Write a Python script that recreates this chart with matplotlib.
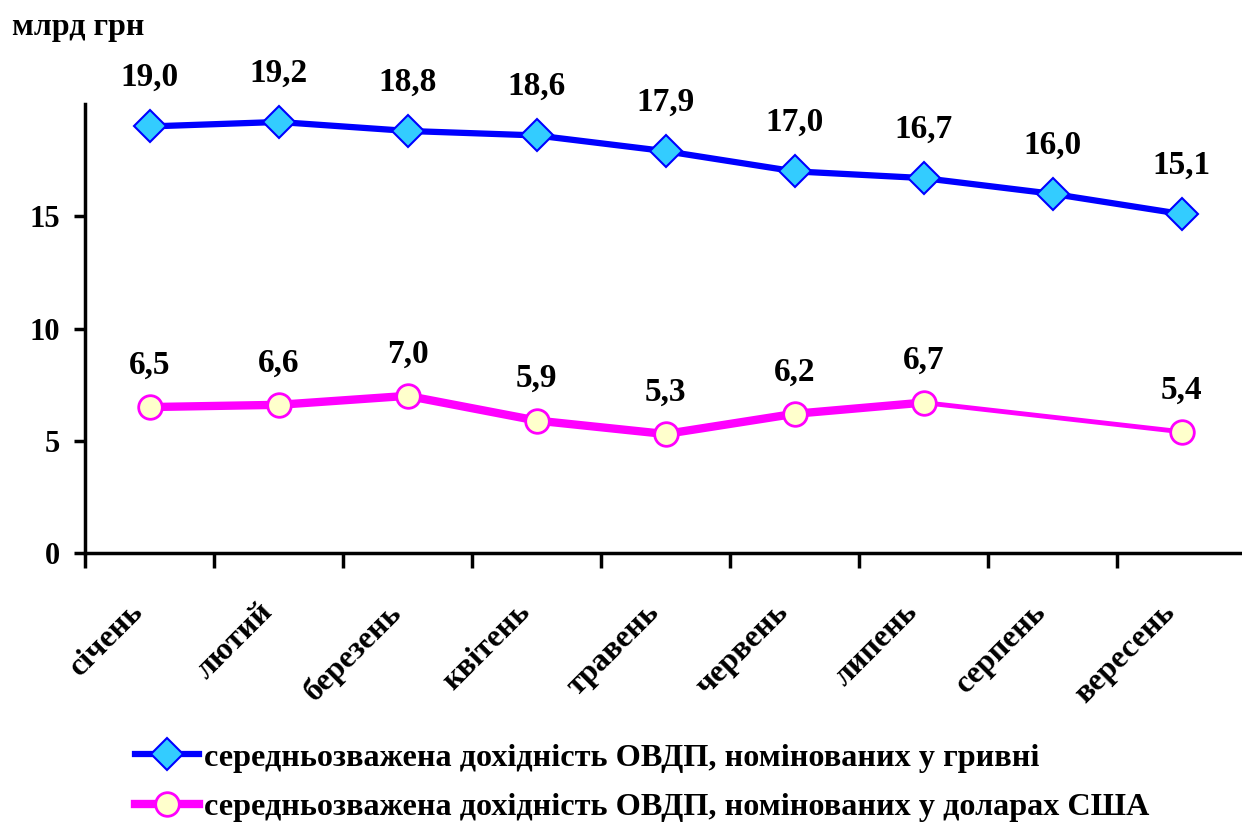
import numpy as np
import matplotlib

matplotlib.use('Agg')
import matplotlib.pyplot as plt

# --- data ---
months = ["січень", "лютий", "березень", "квітень", "травень",
          "червень", "липень", "серпень", "вересень"]
uah_yield = [19.0, 19.2, 18.8, 18.6, 17.9, 17.0, 16.7, 16.0, 15.1]
usd_yield = [6.5, 6.6, 7.0, 5.9, 5.3, 6.2, 6.7, np.nan, 5.4]
uah_label = "середньозважена дохідність ОВДП, номінованих у гривні"
usd_label = "середньозважена дохідність ОВДП, номінованих у доларах США"

plt.rcParams['font.family'] = ['Liberation Serif', 'DejaVu Serif']
plt.rcParams['font.weight'] = 'bold'

fig = plt.figure(figsize=(12.42, 8.24), dpi=100)
ax = fig.add_axes([85 / 1242, 271 / 824, 1161 / 1242, 449 / 824])

x = np.arange(len(months))
usd = np.array(usd_yield, dtype=float)
ok = ~np.isnan(usd)

# blue series
ax.plot(x, uah_yield, color='#0000FF', linewidth=4.5, marker='D', markersize=16,
        markerfacecolor='#33CCFF', markeredgecolor='#0000FF', markeredgewidth=1.5,
        label=uah_label, zorder=3)

# pink series: thin bridge over the missing month, thick where consecutive
ax.plot(x[ok], usd[ok], color='#FF00FF', linewidth=3.5, zorder=2)
ax.plot(x, usd, color='#FF00FF', linewidth=6, marker='o', markersize=17,
        markerfacecolor='#FFFFCC', markeredgecolor='#FF00FF', markeredgewidth=2,
        label=usd_label, zorder=3)

for xi, v in zip(x, uah_yield):
    ax.annotate(f"{v:.1f}".replace('.', ','), (xi, v), xytext=(0, 24),
                textcoords='offset points', ha='center', va='bottom',
                fontsize=24, fontweight='bold')
for xi, v in zip(x, usd):
    if np.isnan(v):
        continue
    ax.annotate(f"{v:.1f}".replace('.', ','), (xi, v), xytext=(0, 19),
                textcoords='offset points', ha='center', va='bottom',
                fontsize=24, fontweight='bold')

# month labels, rotated
for xi, m in zip(x, months):
    ax.annotate(m, (xi, 0), xycoords=('data', 'axes fraction'),
                xytext=(-15, -32), textcoords='offset points',
                rotation=45, rotation_mode='anchor', ha='right', va='top',
                fontsize=23, fontweight='bold')

ax.set_xlim(-0.5, len(months) - 0.5)
ax.set_ylim(0, 20)
ax.set_yticks([0, 5, 10, 15])
ax.set_yticklabels(['0', '5', '10', '15'], fontsize=22, fontweight='bold')
ax.set_xticks(np.arange(len(months) + 1) - 0.5)
ax.set_xticklabels([])
ax.tick_params(axis='x', which='major', direction='out', length=11, width=2.5)
ax.tick_params(axis='y', direction='out', length=8, width=2.5, pad=10)

for s in ['top', 'right']:
    ax.spines[s].set_visible(False)
for s in ['left', 'bottom']:
    ax.spines[s].set_linewidth(2.5)

fig.text(12 / 1242, 1 - 28 / 824, "млрд грн", fontsize=23, fontweight='bold',
         ha='left', va='center')

ax.legend(loc='upper left', bbox_to_anchor=(106 / 1242, 1 - 714 / 824),
          bbox_transform=fig.transFigure, frameon=False,
          handlelength=2.0, handletextpad=0.15, labelspacing=0.62,
          prop={'weight': 'bold', 'size': 23.2})

fig.savefig('out.png', dpi=100)
